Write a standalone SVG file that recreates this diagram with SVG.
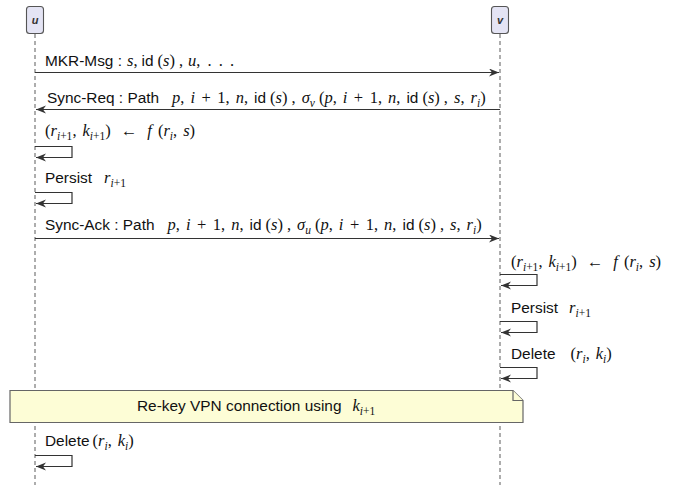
<svg xmlns="http://www.w3.org/2000/svg" width="689" height="485" viewBox="0 0 689 485">
  <style>
    .bg { fill: #ffffff; }
    .actor rect { fill: #e4e4f4; stroke: #555; stroke-width: 1.1; }
    .actor text { font-family: "Liberation Sans", Arial, sans-serif; font-size: 11px; font-weight: bold; font-style: italic; fill: #333; text-anchor: middle; }
    .life { stroke: #777; stroke-width: 1.2; stroke-dasharray: 4 3; fill: none; }
    .msg { stroke: #333; stroke-width: 1.2; fill: none; marker-end: url(#head); }
    .lbl { font-family: "Liberation Sans", Arial, sans-serif; font-size: 15.4px; fill: #111; }
    .mi { font-family: "Liberation Serif", "Times New Roman", serif; font-style: italic; font-size: 16.5px; }
    .mr { font-family: "Liberation Serif", "Times New Roman", serif; font-size: 16.5px; }
    .lbl .sub { font-size: 11.5px; }
    .dots { letter-spacing: 1.5px; }
    .note path { fill: #fdfdd6; stroke: #666; stroke-width: 1.2; }
  </style>
  <defs>
    <marker id="head" markerUnits="userSpaceOnUse" markerWidth="12" markerHeight="10" refX="10" refY="4" orient="auto">
      <path d="M0,0 L10,4 L0,8 L3,4 Z" fill="#333"/>
    </marker>
  </defs>

  <rect class="bg" width="689" height="485"/>

  <!-- lifelines -->
  <g id="lifelines">
    <line class="life" x1="35" y1="34" x2="35" y2="485"/>
    <line class="life" x1="500" y1="34" x2="500" y2="485"/>
  </g>

  <!-- participants -->
  <g id="actor-u" class="actor">
    <rect x="26.5" y="6.5" width="17" height="27" rx="3"/>
    <text x="35" y="24">u</text>
  </g>
  <g id="actor-v" class="actor">
    <rect x="491.5" y="6.5" width="17" height="27" rx="3"/>
    <text x="500" y="24">v</text>
  </g>

  <!-- note spanning both lifelines -->
  <g id="note-rekey" class="note">
    <path d="M10,390.5 H513 L523,400.5 V422.5 H10 Z"/>
    <path d="M513,390.5 V400.5 H523" fill="none"/>
    <text class="lbl" x="137" y="411">Re-key VPN connection using<tspan class="mi" dx="11">k</tspan><tspan class="mi sub" dy="3.5">i</tspan><tspan class="mr sub">+1</tspan></text>
  </g>

  <!-- messages and self-calls -->
  <g id="connectors">
    <path class="msg" d="M35,72.5 H499"/>
    <path class="msg" d="M500,109.5 H36"/>
    <path class="msg" d="M35,146.5 H72 V157.5 H36"/>
    <path class="msg" d="M35,192.5 H72 V203.5 H36"/>
    <path class="msg" d="M35,238.5 H499"/>
    <path class="msg" d="M500,274.5 H537 V285.5 H501"/>
    <path class="msg" d="M500,321.5 H537 V332.5 H501"/>
    <path class="msg" d="M500,367.5 H537 V378.5 H501"/>
    <path class="msg" d="M35,455.5 H72 V466.5 H36"/>
  </g>

  <!-- message labels -->
  <g id="labels" class="lbl">
    <text x="45" y="66">MKR-Msg :<tspan class="mi" dx="5">s</tspan><tspan class="mr">,</tspan><tspan dx="4">id</tspan><tspan class="mr" dx="4">(</tspan><tspan class="mi">s</tspan><tspan class="mr">)</tspan><tspan class="mr" dx="4">,</tspan><tspan class="mi" dx="5">u</tspan><tspan class="mr">,</tspan><tspan class="mr dots" dx="7">. . .</tspan></text>

    <text x="47" y="103">Sync-Req : Path<tspan class="mi" dx="13">p</tspan><tspan class="mr">,</tspan><tspan class="mi" dx="6">i</tspan><tspan class="mr" dx="6.5">+</tspan><tspan class="mr" dx="6.5">1</tspan><tspan class="mr">,</tspan><tspan class="mi" dx="6">n</tspan><tspan class="mr">,</tspan><tspan dx="6">id</tspan><tspan class="mr" dx="4">(</tspan><tspan class="mi">s</tspan><tspan class="mr">)</tspan><tspan class="mr" dx="4">,</tspan><tspan class="mi" dx="6">σ</tspan><tspan class="mi sub" dy="3.5">v</tspan><tspan class="mr" dx="4" dy="-3.5">(</tspan><tspan class="mi">p</tspan><tspan class="mr">,</tspan><tspan class="mi" dx="6">i</tspan><tspan class="mr" dx="6.5">+</tspan><tspan class="mr" dx="6.5">1</tspan><tspan class="mr">,</tspan><tspan class="mi" dx="6">n</tspan><tspan class="mr">,</tspan><tspan dx="6">id</tspan><tspan class="mr" dx="4">(</tspan><tspan class="mi">s</tspan><tspan class="mr">)</tspan><tspan class="mr" dx="4">,</tspan><tspan class="mi" dx="6">s</tspan><tspan class="mr">,</tspan><tspan class="mi" dx="6">r</tspan><tspan class="mi sub" dy="3.5">i</tspan><tspan class="mr" dy="-3.5">)</tspan></text>

    <text x="45" y="136"><tspan class="mr">(</tspan><tspan class="mi">r</tspan><tspan class="mi sub" dy="3.5">i</tspan><tspan class="mr sub">+1</tspan><tspan class="mr" dy="-3.5">,</tspan><tspan class="mi" dx="6">k</tspan><tspan class="mi sub" dy="3.5">i</tspan><tspan class="mr sub">+1</tspan><tspan class="mr" dy="-3.5">)</tspan><tspan class="mr" dx="10">←</tspan><tspan class="mi" dx="10">f</tspan><tspan class="mr" dx="6">(</tspan><tspan class="mi">r</tspan><tspan class="mi sub" dy="3.5">i</tspan><tspan class="mr" dy="-3.5">,</tspan><tspan class="mi" dx="6">s</tspan><tspan class="mr">)</tspan></text>

    <text x="45" y="183">Persist<tspan class="mi" dx="12">r</tspan><tspan class="mi sub" dy="3.5">i</tspan><tspan class="mr sub">+1</tspan></text>

    <text x="45" y="230">Sync-Ack : Path<tspan class="mi" dx="13">p</tspan><tspan class="mr">,</tspan><tspan class="mi" dx="6">i</tspan><tspan class="mr" dx="6.5">+</tspan><tspan class="mr" dx="6.5">1</tspan><tspan class="mr">,</tspan><tspan class="mi" dx="6">n</tspan><tspan class="mr">,</tspan><tspan dx="6">id</tspan><tspan class="mr" dx="4">(</tspan><tspan class="mi">s</tspan><tspan class="mr">)</tspan><tspan class="mr" dx="4">,</tspan><tspan class="mi" dx="6">σ</tspan><tspan class="mi sub" dy="3.5">u</tspan><tspan class="mr" dx="4" dy="-3.5">(</tspan><tspan class="mi">p</tspan><tspan class="mr">,</tspan><tspan class="mi" dx="6">i</tspan><tspan class="mr" dx="6.5">+</tspan><tspan class="mr" dx="6.5">1</tspan><tspan class="mr">,</tspan><tspan class="mi" dx="6">n</tspan><tspan class="mr">,</tspan><tspan dx="6">id</tspan><tspan class="mr" dx="4">(</tspan><tspan class="mi">s</tspan><tspan class="mr">)</tspan><tspan class="mr" dx="4">,</tspan><tspan class="mi" dx="6">s</tspan><tspan class="mr">,</tspan><tspan class="mi" dx="6">r</tspan><tspan class="mi sub" dy="3.5">i</tspan><tspan class="mr" dy="-3.5">)</tspan></text>

    <text x="511" y="267"><tspan class="mr">(</tspan><tspan class="mi">r</tspan><tspan class="mi sub" dy="3.5">i</tspan><tspan class="mr sub">+1</tspan><tspan class="mr" dy="-3.5">,</tspan><tspan class="mi" dx="6">k</tspan><tspan class="mi sub" dy="3.5">i</tspan><tspan class="mr sub">+1</tspan><tspan class="mr" dy="-3.5">)</tspan><tspan class="mr" dx="10">←</tspan><tspan class="mi" dx="10">f</tspan><tspan class="mr" dx="6">(</tspan><tspan class="mi">r</tspan><tspan class="mi sub" dy="3.5">i</tspan><tspan class="mr" dy="-3.5">,</tspan><tspan class="mi" dx="6">s</tspan><tspan class="mr">)</tspan></text>

    <text x="511" y="313">Persist<tspan class="mi" dx="11">r</tspan><tspan class="mi sub" dy="3.5">i</tspan><tspan class="mr sub">+1</tspan></text>

    <text x="511" y="359">Delete<tspan class="mr" dx="15">(</tspan><tspan class="mi">r</tspan><tspan class="mi sub" dy="3.5">i</tspan><tspan class="mr" dy="-3.5">,</tspan><tspan class="mi" dx="6">k</tspan><tspan class="mi sub" dy="3.5">i</tspan><tspan class="mr" dy="-3.5">)</tspan></text>

    <text x="45" y="446">Delete<tspan class="mr" dx="3">(</tspan><tspan class="mi">r</tspan><tspan class="mi sub" dy="3.5">i</tspan><tspan class="mr" dy="-3.5">,</tspan><tspan class="mi" dx="6">k</tspan><tspan class="mi sub" dy="3.5">i</tspan><tspan class="mr" dy="-3.5">)</tspan></text>
  </g>
</svg>
